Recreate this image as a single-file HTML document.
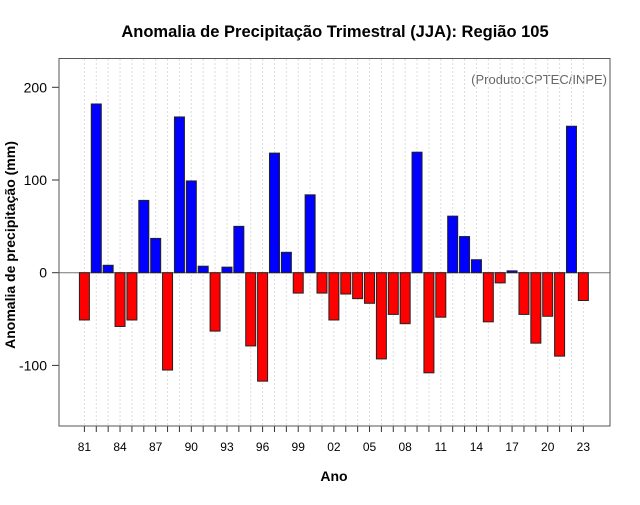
<!DOCTYPE html>
<html><head><meta charset="utf-8"><style>
body{margin:0;background:#fff;}
svg text{font-family:"Liberation Sans",sans-serif;}
</style></head><body>
<svg id="chart" width="640" height="500">
<rect width="640" height="500" fill="#fff"/>
<text x="335" y="37" text-anchor="middle" font-size="16.5" font-weight="bold">Anomalia de Precipitação Trimestral (JJA): Região 105</text>
<text x="607" y="84" text-anchor="end" font-size="13" fill="#666">(Produto:CPTEC/INPE)</text>
<text x="334" y="481" text-anchor="middle" font-size="14" font-weight="bold">Ano</text>
<text transform="translate(15,245) rotate(-90)" text-anchor="middle" font-size="14" font-weight="bold">Anomalia de precipitação (mm)</text>
<g id="grid"></g><g id="bars"></g><g id="axes"></g>
<rect x="59" y="58.5" width="551" height="367.5" fill="none" stroke="#555" stroke-width="1"/>
</svg>
<script>
const years = [81,82,83,84,85,86,87,88,89,90,91,92,93,94,95,96,97,98,99,0,1,2,3,4,5,6,7,8,9,10,11,12,13,14,15,16,17,18,19,20,21,22,23];
const values = [-51,182,8,-58,-51,78,37,-105,168,99,7,-63,6,50,-79,-117,129,22,-22,84,-22,-51,-23,-28,-33,-93,-45,-55,130,-108,-48,61,39,14,-53,-11,2,-45,-76,-47,-90,158,-30];
const yTicks = [-100,0,100,200];
const NS='http://www.w3.org/2000/svg';
function X(i){return 84.4+i*11.88;}
function Y(v){return 272.7-v*0.927;}
function mk(tag,attrs,parent){const e=document.createElementNS(NS,tag);for(const k in attrs)e.setAttribute(k,attrs[k]);document.getElementById(parent).appendChild(e);return e;}
years.forEach((yr,i)=>{
  const g=mk('line',{x1:X(i),x2:X(i),y1:59,y2:426,stroke:'#ddd','stroke-dasharray':'2,2'},'grid');
  
  
  const v=values[i];
  const b=mk('rect',{x:X(i)-5,y:Math.min(Y(v),Y(0)),width:10,height:Math.abs(Y(v)-Y(0)),fill:v>=0?'#0000ff':'#ff0000',stroke:'#222','stroke-width':1},'bars');
  
  
  const t=mk('line',{x1:X(i),x2:X(i),y1:426,y2:432,stroke:'#333'},'axes');
  
  
  if(i%3===0){
    const l=mk('text',{x:X(i),y:451,'text-anchor':'middle','font-size':12},'axes');
    l.textContent=String(yr).padStart(2,'0');
    
    
  }
});
const z=mk('line',{x1:59,x2:610,y1:Y(0),y2:Y(0),stroke:'#777'},'grid');


document.getElementById('grid').appendChild(z);
yTicks.forEach(v=>{
  const t=mk('line',{x1:52,x2:59,y1:Y(v),y2:Y(v),stroke:'#333'},'axes');
  
  
  const l=mk('text',{x:47,y:Y(v)+5,'text-anchor':'end','font-size':14},'axes');
  l.textContent=v;
  
  
});
</script>
</body></html>
